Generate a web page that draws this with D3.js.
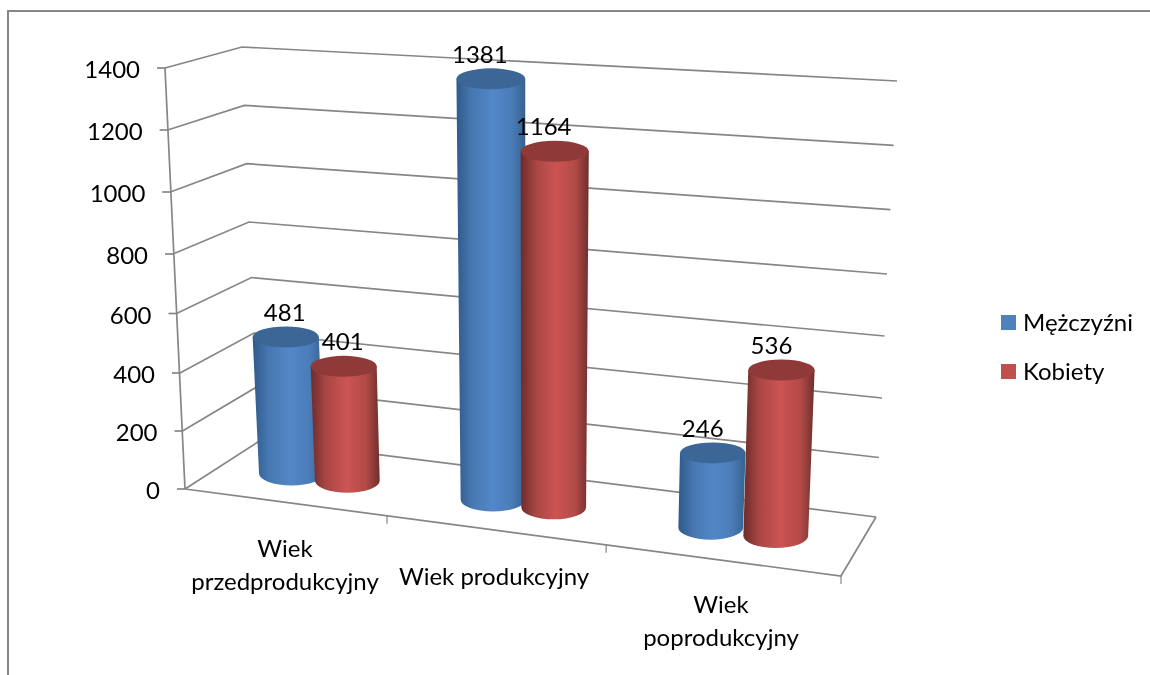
<!DOCTYPE html>
<html>
<head>
<meta charset="utf-8">
<script src="https://cdn.jsdelivr.net/npm/d3@7"></script>
<style>
body { margin: 0; background: #fff; }
svg { filter: blur(0.35px); }
text { font-family: Lato, "Open Sans", sans-serif; fill: #000; }
</style>
</head>
<body>
<div class="container"></div>
<script>
// Data
const categories = ["Wiek przedprodukcyjny", "Wiek produkcyjny", "Wiek poprodukcyjny"];
const seriesNames = ["Mężczyźni", "Kobiety"];
const men = [481, 1381, 246];
const women = [401, 1164, 536];
const valueTicks = [0, 200, 400, 600, 800, 1000, 1200, 1400];

// Define the dimensions
const w = 1150;
const h = 675;
const gridColor = "#868686";
const fontSize = 24;

const svg = d3.select(".container")
  .append("svg")
  .attr("width", w)
  .attr("height", h)
  .style("display", "block");

// Gradients for the cylinder walls
const defs = svg.append("defs");
const palette = [
  { id: "blue", stops: ["#2f5a8c", "#4677b0", "#5287c8", "#4a7cb8", "#36628f"], top: "#3b6695", key: "#4f81bd" },
  { id: "red", stops: ["#6b2c2a", "#a84644", "#cc5452", "#b24a47", "#6f2f2d"], top: "#8f3a38", key: "#c0504d" }
];
palette.forEach(p => {
  const g = defs.append("linearGradient").attr("id", p.id);
  [0, 0.22, 0.52, 0.8, 1].forEach((o, i) => {
    g.append("stop").attr("offset", o).attr("stop-color", p.stops[i]);
  });
});

// Scales: the four vertical edges of the 3D box, calibrated on screen
const stops = [0, 400, 800, 1400];
const edge = (xs, ys) => ({
  x: d3.scaleLinear().domain(stops).range(xs),
  y: d3.scaleLinear().domain(stops).range(ys)
});
const frontLeft = edge([185, 180, 173, 165], [489, 373, 254, 68]);
const backLeft = edge([261, 254, 249, 242], [440, 333, 222, 47]);
const backRight = edge([876, 882, 887, 897], [517, 398, 274, 81]);
const frontRight = edge([841, 847, 852, 862], [576, 446, 313, 106]);

// u: along the category axis (0-1), d: depth (0 front, 1 back), v: value
const perspective = d3.scaleLinear().domain([0, 1 / 3, 2 / 3, 1]).range([0, 0.308, 0.642, 1]);
const mix = (a, b, t) => a + (b - a) * t;
const project = (u, d, v) => {
  const s = perspective(u);
  const front = [mix(frontLeft.x(v), frontRight.x(v), s), mix(frontLeft.y(v), frontRight.y(v), s)];
  const back = [mix(backLeft.x(v), backRight.x(v), s), mix(backLeft.y(v), backRight.y(v), s)];
  return [mix(front[0], back[0], d), mix(front[1], back[1], d)];
};

const xCat = d3.scaleBand().domain(categories).range([0, 1]);
const xSeries = d3.scaleBand().domain(seriesNames).range([0, xCat.bandwidth()]).paddingInner(0).paddingOuter(0.75);
const line = d3.line();

// Floor and walls
const grid = svg.append("g").attr("fill", "none").attr("stroke", gridColor).attr("stroke-width", 1.7);
valueTicks.forEach(v => {
  grid.append("path").attr("d", line([project(0, 0, v), project(0, 1, v), project(1, 1, v)]));
  const p = project(0, 0, v);
  grid.append("path").attr("d", line([[p[0] - 8, p[1]], p]));
});
grid.append("path").attr("d", line([project(0, 0, 0), project(0, 0, 1400)]));
grid.append("path").attr("d", line([project(0, 0, 0), project(1, 0, 0), project(1, 1, 0)]));
[1 / 3, 2 / 3, 1].forEach(u => {
  const p = project(u, 0, 0);
  grid.append("path").attr("stroke-width", 1.2).attr("d", line([p, [p[0], p[1] + 8]]));
});

// Outer frame, cut by the picture edge
svg.append("path")
  .attr("d", line([[8, h], [8, 11], [w, 11]]))
  .attr("fill", "none")
  .attr("stroke", gridColor)
  .attr("stroke-width", 2);

// Value axis labels
svg.selectAll(".tick-label")
  .data(valueTicks)
  .enter()
  .append("text")
  .attr("class", "tick-label")
  .attr("text-anchor", "end")
  .attr("font-size", fontSize)
  .attr("x", d => project(0, 0, d)[0] - 25)
  .attr("y", d => project(0, 0, d)[1] + 10)
  .text(d => d);

// Cylinders, left to right so that each one covers the previous
const topRy = 10.5;
const bottomRy = 12;
const barShift = -1.5;
const radiusFactor = 1.07; // neighbours overlap a little
const cylinders = [];
categories.forEach((c, i) => {
  seriesNames.forEach((s, j) => {
    cylinders.push({ c, s, j, value: (j === 0 ? men : women)[i] });
  });
});

const cyl = svg.selectAll(".cyl")
  .data(cylinders)
  .enter()
  .append("g")
  .attr("class", "cyl");

// radius follows the width of the box at that height, not the category perspective
const radius = v => radiusFactor * xSeries.bandwidth() / 2 * (project(1, 0.5, v)[0] - project(0, 0.5, v)[0]);
const centre = (d, v) => {
  const p = project(xCat(d.c) + xSeries(d.s) + xSeries.bandwidth() / 2, 0.5, v);
  return [p[0] + barShift, p[1]];
};

cyl.append("path")
  .attr("fill", d => `url(#${palette[d.j].id})`)
  .attr("d", d => {
    const t = centre(d, d.value);
    const b = centre(d, 0);
    const tr = radius(d.value);
    const br = radius(0);
    return `M${t[0] - tr},${t[1]} L${t[0] + tr},${t[1]} L${b[0] + br},${b[1]}` +
      ` A${br},${bottomRy} 0 0 1 ${b[0] - br},${b[1]} Z`;
  });

cyl.append("ellipse")
  .attr("fill", d => palette[d.j].top)
  .attr("cx", d => centre(d, d.value)[0])
  .attr("cy", d => centre(d, d.value)[1])
  .attr("rx", d => radius(d.value))
  .attr("ry", topRy);

// Data labels
const labelNudge = { "Wiek przedprodukcyjny": -1, "Wiek produkcyjny": -11, "Wiek poprodukcyjny": -10 };
svg.selectAll(".value-label")
  .data(cylinders)
  .enter()
  .append("text")
  .attr("class", "value-label")
  .attr("text-anchor", "middle")
  .attr("font-size", fontSize)
  .attr("x", d => centre(d, d.value)[0] + labelNudge[d.c])
  .attr("y", d => centre(d, d.value)[1] - 16)
  .text(d => d.value);

// Category labels
const catLines = [["Wiek", "przedprodukcyjny"], ["Wiek produkcyjny"], ["Wiek", "poprodukcyjny"]];
const catAnchors = [[285, 557], [494, 585], [721, 613]];
catLines.forEach((lines, i) => {
  lines.forEach((t, k) => {
    svg.append("text")
      .attr("class", "cat-label")
      .attr("text-anchor", "middle")
      .attr("font-size", fontSize)
      .attr("x", catAnchors[i][0])
      .attr("y", catAnchors[i][1] + k * 33)
      .text(t);
  });
});

// Legend
const legend = svg.selectAll(".legend")
  .data(seriesNames)
  .enter()
  .append("g")
  .attr("class", "legend")
  .attr("transform", (d, i) => `translate(1001,${315 + i * 49})`);
legend.append("rect")
  .attr("width", 15)
  .attr("height", 15)
  .attr("fill", (d, i) => palette[i].key);
legend.append("text")
  .attr("x", 22)
  .attr("y", 16)
  .attr("font-size", fontSize)
  .text(d => d);
</script>
</body>
</html>
